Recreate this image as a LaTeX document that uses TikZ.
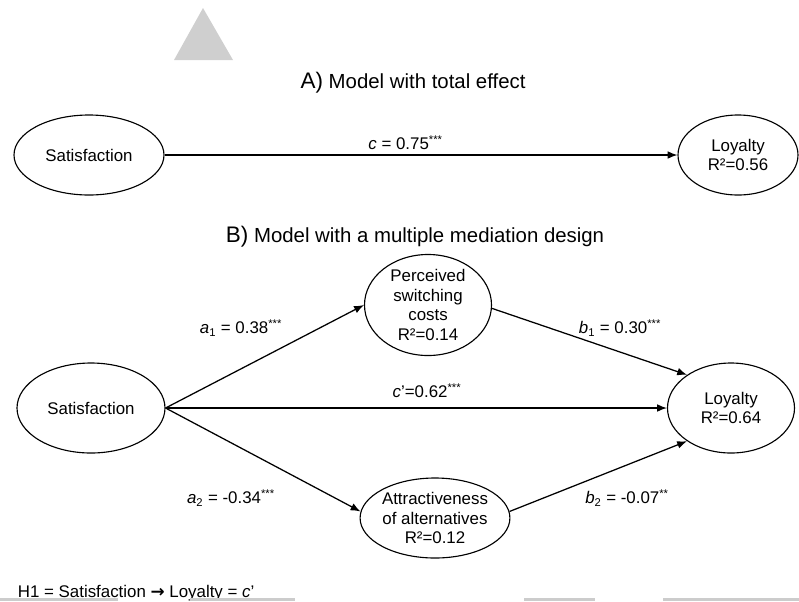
\documentclass[tikz,border=0pt]{standalone}
\usepackage{fontspec}
\setmainfont{Liberation Sans}
\newfontfamily\arrowfont{DejaVu Sans}
\usetikzlibrary{arrows.meta,shapes.geometric}

\begin{document}
\begin{tikzpicture}[>={Latex[length=7pt,width=5.5pt]},
    latent/.style={draw,ellipse,line width=0.8pt,inner sep=0pt,align=center,
        font=\fontsize{12}{14}\selectfont},
    effect/.style={->,line width=0.9pt},
    coef/.style={font=\fontsize{12}{14}\selectfont},
    panel/.style={font=\fontsize{14.5}{16}\selectfont}]
    \useasboundingbox (0,0) rectangle (19.975,-15.025);
    \clip (0,0) rectangle (19.975,-15.025);
    % grey marks of the page
    \fill[gray!38] (5.075,-0.2) -- (4.35,-1.5) -- (5.825,-1.5) -- cycle;

    % A) total effect
    \node[panel] (titleA) at (10.325,-2.075) {{\fontsize{16}{18}\selectfont A)} Model with total effect};
    \node[latent,minimum width=3.75cm,minimum height=2cm] (satA) at (2.225,-3.875) {Satisfaction};
    \node[latent,minimum width=3cm,minimum height=2cm] (loyA) at (18.45,-3.875) {Loyalty\\R²=0.56};
    \draw[effect] (satA) -- (loyA) node[coef,pos=0.47,above] {\textit{c} = 0.75\textsuperscript{***}};

    % B) multiple mediation
    \node[panel] (titleB) at (10.375,-5.925) {{\fontsize{16}{18}\selectfont B)} Model with a multiple mediation design};
    \node[latent,minimum width=3.7cm,minimum height=2.25cm] (satB) at (2.275,-10.2) {Satisfaction};
    \node[latent,minimum width=3.175cm,minimum height=2.35cm] (psc) at (10.7,-7.625) {Perceived\\switching\\costs\\R²=0.14};
    \node[latent,minimum width=3.175cm,minimum height=2.25cm] (loyB) at (18.275,-10.2) {Loyalty\\R²=0.64};
    \node[latent,minimum width=3.1cm,minimum height=2cm] (att) at (10.875,-12.95) {Attractiveness\\of alternatives\\R²=0.12};

    \draw[effect] (satB.east) -- (psc.west);
    \draw[effect] (satB.east) -- (loyB.west);
    \draw[effect] (satB.east) -- (att.175);
    \draw[effect] (psc.357) -- (loyB.143);
    \draw[effect] (att.5) -- (loyB.217);

    \node[coef] (a1) at (6.025,-8.2) {\textit{a}\textsubscript{1} = 0.38\textsuperscript{***}};
    \node[coef] (cp) at (10.675,-9.775) {\textit{c}'=0.62\textsuperscript{***}};
    \node[coef] (b1) at (15.5,-8.2) {\textit{b}\textsubscript{1} = 0.30\textsuperscript{***}};
    \node[coef] (a2) at (5.775,-12.45) {\textit{a}\textsubscript{2} = -0.34\textsuperscript{***}};
    \node[coef] (b2) at (15.675,-12.45) {\textit{b}\textsubscript{2} = -0.07\textsuperscript{**}};

    \node[coef,anchor=base west] (hyp) at (0.325,-14.925) {H1 = Satisfaction {\arrowfont\bfseries →} Loyalty = \textit{c}'};
    \foreach \xa/\xb in {0/2.95,4.75/7.375,13.1/14.875,16.575/19.975}{
        \fill[gray!40] (\xa,-14.95) rectangle (\xb,-15.025);
    }
\end{tikzpicture}
\end{document}
